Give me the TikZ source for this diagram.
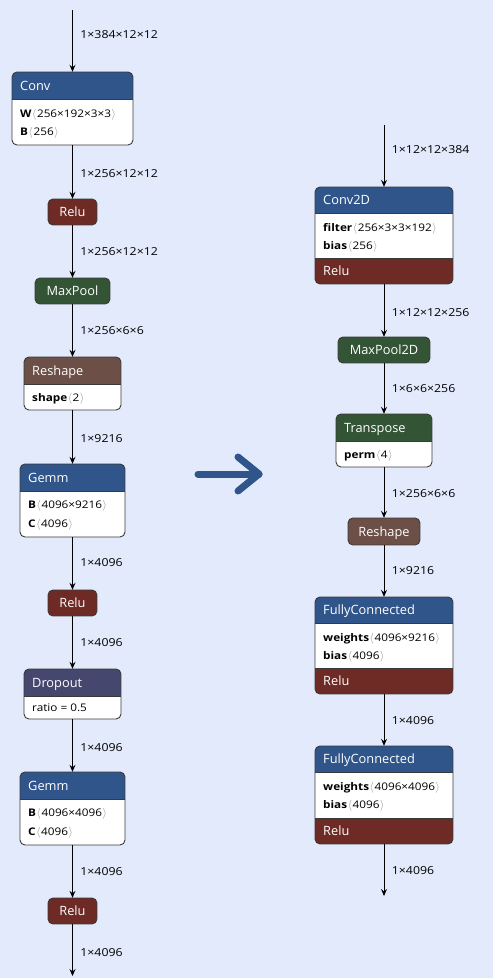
\documentclass[tikz,border=0pt]{standalone}
\usepackage{fontspec}
\setmainfont{Open Sans}
\newfontfamily\widesans[FakeStretch=1.12]{Open Sans}
\usetikzlibrary{arrows.meta,fit}

\definecolor{bg}{HTML}{E2EAFC}
\definecolor{layer}{HTML}{30558A}
\definecolor{activ}{HTML}{6E2A24}
\definecolor{pool}{HTML}{335536}
\definecolor{shapeop}{HTML}{6C4F47}
\definecolor{drop}{HTML}{45476F}
\definecolor{border}{HTML}{3A3A3A}
\definecolor{angle}{HTML}{8A8A8A}

\newcommand\rad{5pt}
% frame of an operator box, named #1, corners (#2,#3) and (#4,#5)
\newcommand\nnode[5]{%
  \coordinate (#1-nw) at (#2,#3);
  \coordinate (#1-se) at (#4,#5);
  \node[nframe, fit=(#1-nw)(#1-se)] (#1) {};
  \def\curxa{#2}\def\curya{#3}\def\curxb{#4}\def\curyb{#5}}
% coloured band of the current box between #1 and #2
\newcommand\nband[3]{%
  \begin{scope}
    \clip[rounded corners=\rad] (\curxa,\curya) rectangle (\curxb,\curyb);
    \fill[#3] (\curxa,#1) rectangle (\curxb,#2);
  \end{scope}}
\newcommand\nsep[1]{\draw[nline] (\curxa,#1) -- (\curxb,#1);}
\newcommand\noutline{\draw[nline, rounded corners=\rad] (\curxa,\curya) rectangle (\curxb,\curyb);}
\newcommand\shp[1]{\hspace{0.6pt}\textcolor{angle}{$\langle$}\hspace{0.6pt}#1\hspace{0.6pt}\textcolor{angle}{$\rangle$}}

\begin{document}
\begin{tikzpicture}[x=1pt,y=-1pt,
  nframe/.style={inner sep=0pt, fill=white, rounded corners=\rad},
  nline/.style={draw=border, line width=0.9pt},
  edge/.style={draw=black, line width=0.8pt, -{Stealth[length=7pt,width=6pt,inset=2.5pt]}},
  elabel/.style={anchor=west, inner sep=0pt, xshift=7.5pt, font=\widesans\fontsize{11}{13}\selectfont},
  title/.style={anchor=base west, inner sep=0pt, text=white, font=\fontsize{12.8}{15}\selectfont},
  ctitle/.style={anchor=base, inner sep=0pt, text=white, font=\fontsize{12.8}{15}\selectfont},
  attr/.style={anchor=base west, inner sep=0pt, font=\widesans\fontsize{10.5}{12}\selectfont},
  bigarrow/.style={draw=layer, line width=7pt, line cap=round, line join=round}]

\fill[bg] (0,0) rectangle (493,978);
\useasboundingbox (0,0) rectangle (493,978);

% ---------------- left graph ----------------
\coordinate (lin) at (72.5,10);
\coordinate (lout) at (72.5,976);

\nnode{conv}{12}{72}{133}{145}
\nband{72}{99}{layer}\nsep{99}\noutline
\node[title] (conv-t) at (20,90) {Conv};
\node[attr] (conv-w) at (20,117.5) {\textbf{W}\shp{256×192×3×3}};
\node[attr] (conv-b) at (20,135.8) {\textbf{B}\shp{256}};

\nnode{relua}{48}{199}{97}{225}
\nband{199}{225}{activ}\noutline
\node[ctitle] (relua-t) at (72.5,216.5) {Relu};

\nnode{poola}{35}{278}{110}{304}
\nband{278}{304}{pool}\noutline
\node[ctitle] (poola-t) at (72.5,295.5) {MaxPool};

\nnode{resha}{24}{357}{121}{410}
\nband{357}{384}{shapeop}\nsep{384}\noutline
\node[title] (resha-t) at (32,375) {Reshape};
\node[attr] (resha-s) at (32,401.8) {\textbf{shape}\shp{2}};

\nnode{gemma}{20}{464}{125}{537}
\nband{464}{491}{layer}\nsep{491}\noutline
\node[title] (gemma-t) at (28,482) {Gemm};
\node[attr] (gemma-b) at (28,508.5) {\textbf{B}\shp{4096×9216}};
\node[attr] (gemma-c) at (28,527.5) {\textbf{C}\shp{4096}};

\nnode{relub}{48}{590}{97}{616}
\nband{590}{616}{activ}\noutline
\node[ctitle] (relub-t) at (72.5,607.5) {Relu};

\nnode{drop}{24}{669}{121}{719}
\nband{669}{696}{drop}\nsep{696}\noutline
\node[title] (drop-t) at (32,687) {Dropout};
\node[attr] (drop-r) at (32,711.8) {ratio = 0.5};

\nnode{gemmb}{20}{772}{125}{845}
\nband{772}{799}{layer}\nsep{799}\noutline
\node[title] (gemmb-t) at (28,790) {Gemm};
\node[attr] (gemmb-b) at (28,816.5) {\textbf{B}\shp{4096×4096}};
\node[attr] (gemmb-c) at (28,835.5) {\textbf{C}\shp{4096}};

\nnode{reluc}{48}{898}{97}{924}
\nband{898}{924}{activ}\noutline
\node[ctitle] (reluc-t) at (72.5,915.5) {Relu};

\draw[edge] (lin) -- node[elabel, pos=0.39] (la0) {1×384×12×12} (conv);
\draw[edge] (conv) -- node[elabel, pos=0.52] (la1) {1×256×12×12} (relua);
\draw[edge] (relua) -- node[elabel, pos=0.51] (la2) {1×256×12×12} (poola);
\draw[edge] (poola) -- node[elabel, pos=0.51] (la3) {1×256×6×6} (resha);
\draw[edge] (resha) -- node[elabel, pos=0.52] (la4) {1×9216} (gemma);
\draw[edge] (gemma) -- node[elabel, pos=0.49] (la5) {1×4096} (relub);
\draw[edge] (relub) -- node[elabel, pos=0.51] (la6) {1×4096} (drop);
\draw[edge] (drop) -- node[elabel, pos=0.53] (la7) {1×4096} (gemmb);
\draw[edge] (gemmb) -- node[elabel, pos=0.51] (la8) {1×4096} (reluc);
\draw[edge] (reluc) -- node[elabel, pos=0.54] (la9) {1×4096} (lout);

% ---------------- conversion arrow ----------------
\coordinate (ba) at (198,474);
\coordinate (bb) at (259,474);
\coordinate (bu) at (238,457);
\coordinate (bd) at (238,491);
\draw[bigarrow] (ba) -- (bb);
\draw[bigarrow] (bu) -- (bb) -- (bd);

% ---------------- right graph ----------------
\coordinate (rin) at (384,125);
\coordinate (rout) at (384,896);

\nnode{convd}{315}{187}{453}{284}
\nband{187}{213}{layer}\nband{258}{284}{activ}\nsep{213}\nsep{258}\noutline
\node[title] (convd-t) at (323,204.5) {Conv2D};
\node[attr] (convd-f) at (323,231) {\textbf{filter}\shp{256×3×3×192}};
\node[attr] (convd-b) at (323,249.5) {\textbf{bias}\shp{256}};
\node[title] (convd-r) at (323,275.5) {Relu};

\nnode{poold}{338}{337}{430}{363}
\nband{337}{363}{pool}\noutline
\node[ctitle] (poold-t) at (384,354.5) {MaxPool2D};

\nnode{trans}{336}{414}{432}{467}
\nband{414}{441}{pool}\nsep{441}\noutline
\node[title] (trans-t) at (344,432) {Transpose};
\node[attr] (trans-p) at (344,458) {\textbf{perm}\shp{4}};

\nnode{reshd}{348}{518}{420}{545}
\nband{518}{545}{shapeop}\noutline
\node[ctitle] (reshd-t) at (384,536) {Reshape};

\nnode{fca}{315}{597}{453}{694}
\nband{597}{623}{layer}\nband{668}{694}{activ}\nsep{623}\nsep{668}\noutline
\node[title] (fca-t) at (323,614.5) {FullyConnected};
\node[attr] (fca-w) at (323,641) {\textbf{weights}\shp{4096×9216}};
\node[attr] (fca-b) at (323,659.5) {\textbf{bias}\shp{4096}};
\node[title] (fca-r) at (323,685.5) {Relu};

\nnode{fcb}{315}{746}{453}{844}
\nband{746}{772}{layer}\nband{818}{844}{activ}\nsep{772}\nsep{818}\noutline
\node[title] (fcb-t) at (323,763.5) {FullyConnected};
\node[attr] (fcb-w) at (323,790) {\textbf{weights}\shp{4096×4096}};
\node[attr] (fcb-b) at (323,808.5) {\textbf{bias}\shp{4096}};
\node[title] (fcb-r) at (323,835.5) {Relu};

\draw[edge] (rin) -- node[elabel, pos=0.39] (lb0) {1×12×12×384} (convd);
\draw[edge] (convd) -- node[elabel, pos=0.53] (lb1) {1×12×12×256} (poold);
\draw[edge] (poold) -- node[elabel, pos=0.51] (lb2) {1×6×6×256} (trans);
\draw[edge] (trans) -- node[elabel, pos=0.53] (lb3) {1×256×6×6} (reshd);
\draw[edge] (reshd) -- node[elabel, pos=0.5] (lb4) {1×9216} (fca);
\draw[edge] (fca) -- node[elabel, pos=0.52] (lb5) {1×4096} (fcb);
\draw[edge] (fcb) -- node[elabel, pos=0.5] (lb6) {1×4096} (rout);
\end{tikzpicture}
\end{document}
